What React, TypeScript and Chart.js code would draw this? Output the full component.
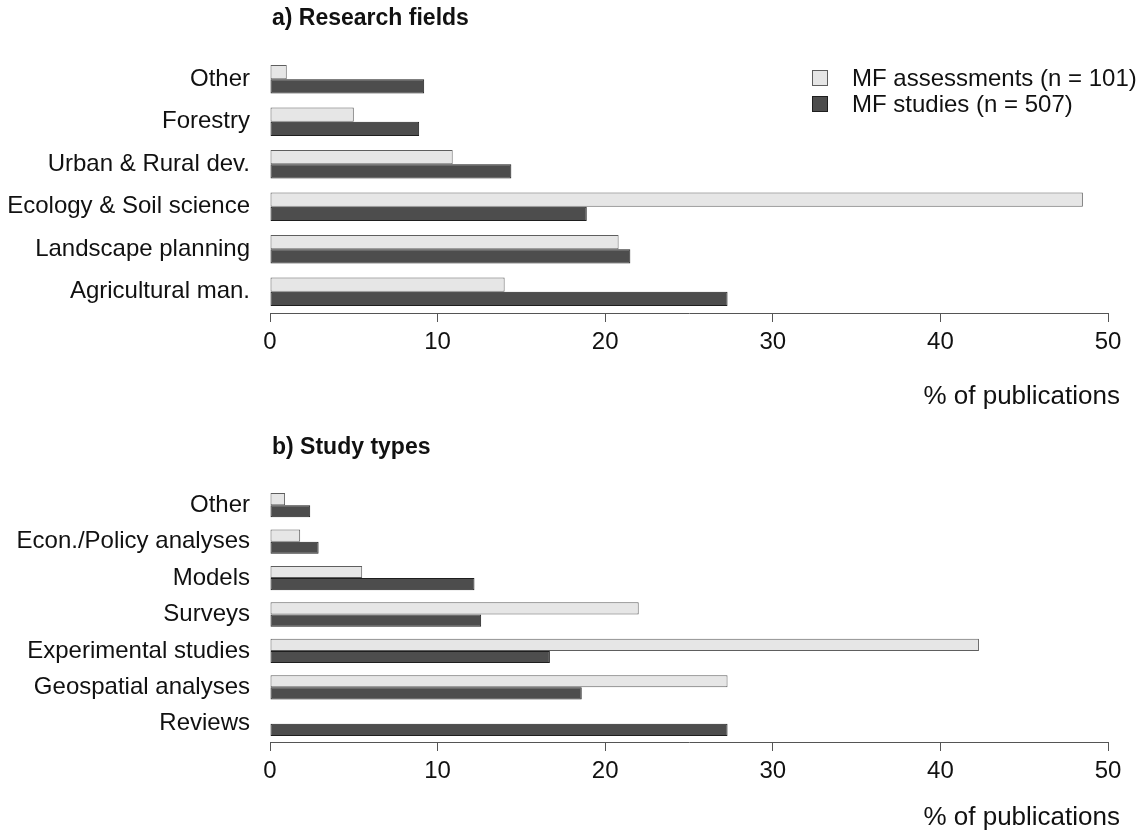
import React, { useEffect, useRef } from "react";
import { Chart, registerables } from "chart.js";

Chart.register(...registerables);

const fieldLabels = ["Other", "Forestry", "Urban & Rural dev.", "Ecology & Soil science", "Landscape planning", "Agricultural man."];
const fieldAssessments = [1.0, 5.0, 10.9, 48.5, 20.8, 14.0];
const fieldStudies = [9.2, 8.9, 14.4, 18.9, 21.5, 27.3];

const typeLabels = ["Other", "Econ./Policy analyses", "Models", "Surveys", "Experimental studies", "Geospatial analyses", "Reviews"];
const typeAssessments = [0.9, 1.8, 5.5, 22.0, 42.3, 27.3, 0];
const typeStudies = [2.4, 2.9, 12.2, 12.6, 16.7, 18.6, 27.3];

const seriesNames = ["MF assessments (n = 101)", "MF studies (n = 507)"];
const xTickValues = [0, 10, 20, 30, 40, 50];

const FONT = "'Liberation Sans', Arial, sans-serif";
const LIGHT = "#e6e6e6";
const LIGHT_BORDER = "#5e5e5e";
const DARK = "#4d4d4d";
const DARK_BORDER = "#1e1e1e";

type PanelProps = {
  title: string;
  labels: string[];
  assess: number[];
  studies: number[];
  height: number;
  top: number;
  bottom: number;
  titleY: number;
  xTitleY: number;
  legend: boolean;
};

function Panel(props: PanelProps) {
  const ref = useRef<HTMLCanvasElement | null>(null);
  useEffect(() => {
    const canvas = ref.current;
    if (!canvas) return;
    const axisH = 50;
    const decor = {
      id: "decor",
      afterDraw(chart: any) {
        const ctx = chart.ctx;
        ctx.save();
        ctx.fillStyle = "#111";
        ctx.textBaseline = "middle";
        ctx.textAlign = "left";
        ctx.font = `bold 23px ${FONT}`;
        ctx.fillText(props.title, 272, props.titleY);
        ctx.font = `26px ${FONT}`;
        ctx.textAlign = "right";
        ctx.fillText("% of publications", 1120, props.xTitleY);
        if (props.legend) {
          const items = [
            { name: seriesNames[0], fill: LIGHT, stroke: LIGHT_BORDER, y: 78 },
            { name: seriesNames[1], fill: DARK, stroke: DARK_BORDER, y: 104 },
          ];
          ctx.textAlign = "left";
          ctx.font = `24px ${FONT}`;
          for (const it of items) {
            ctx.fillStyle = it.fill;
            ctx.strokeStyle = it.stroke;
            ctx.lineWidth = 1;
            ctx.fillRect(812.5, it.y - 7.5, 15, 15);
            ctx.strokeRect(812.5, it.y - 7.5, 15, 15);
            ctx.fillStyle = "#111";
            ctx.fillText(it.name, 852, it.y + 1);
          }
        }
        ctx.restore();
      },
    };
    const chart = new Chart(canvas, {
      type: "bar",
      data: {
        labels: props.labels,
        datasets: [
          {
            label: seriesNames[0],
            data: props.assess,
            backgroundColor: LIGHT,
            borderColor: LIGHT_BORDER,
            borderWidth: 1,
            borderSkipped: false,
            categoryPercentage: 0.667,
            barPercentage: 1.0,
          },
          {
            label: seriesNames[1],
            data: props.studies,
            backgroundColor: DARK,
            borderColor: DARK_BORDER,
            borderWidth: 1,
            borderSkipped: false,
            categoryPercentage: 0.667,
            barPercentage: 1.0,
          },
        ],
      },
      options: {
        indexAxis: "y",
        animation: false,
        responsive: false,
        maintainAspectRatio: false,
        layout: {
          padding: { left: 0, right: 30, top: props.top, bottom: props.height - props.bottom - axisH },
        },
        plugins: {
          legend: { display: false },
          tooltip: { enabled: false },
          title: { display: false },
        },
        scales: {
          x: {
            type: "linear",
            min: 0,
            max: 50,
            afterBuildTicks: (scale: any) => {
              scale.ticks = xTickValues.map((v) => ({ value: v }));
            },
            afterFit: (scale: any) => {
              scale.height = axisH;
            },
            grid: { display: true, drawOnChartArea: false, drawTicks: true, tickLength: 9, color: "#555", lineWidth: 1 },
            border: { display: true, color: "#555", width: 1 },
            ticks: { color: "#111", font: { family: FONT, size: 24 }, padding: 6, maxRotation: 0 },
          },
          y: {
            type: "category",
            afterFit: (scale: any) => {
              scale.width = 270;
            },
            grid: { display: false, drawTicks: false },
            border: { display: false },
            ticks: { color: "#111", font: { family: FONT, size: 24 }, padding: 20, autoSkip: false },
          },
        },
      },
      plugins: [decor],
    });
    return () => chart.destroy();
  }, []);
  return <canvas ref={ref} width={1138} height={props.height} style={{ display: "block", width: 1138, height: props.height }} />;
}

export default function App() {
  return (
    <div style={{ position: "absolute", left: 0, top: 0, width: 1138, height: 834, background: "#fff" }}>
      <Panel title="a) Research fields" labels={fieldLabels} assess={fieldAssessments} studies={fieldStudies}
        height={420} top={58} bottom={313} titleY={19} xTitleY={397} legend={true} />
      <Panel title="b) Study types" labels={typeLabels} assess={typeAssessments} studies={typeStudies}
        height={414} top={67} bottom={322} titleY={28} xTitleY={398} legend={false} />
    </div>
  );
}
